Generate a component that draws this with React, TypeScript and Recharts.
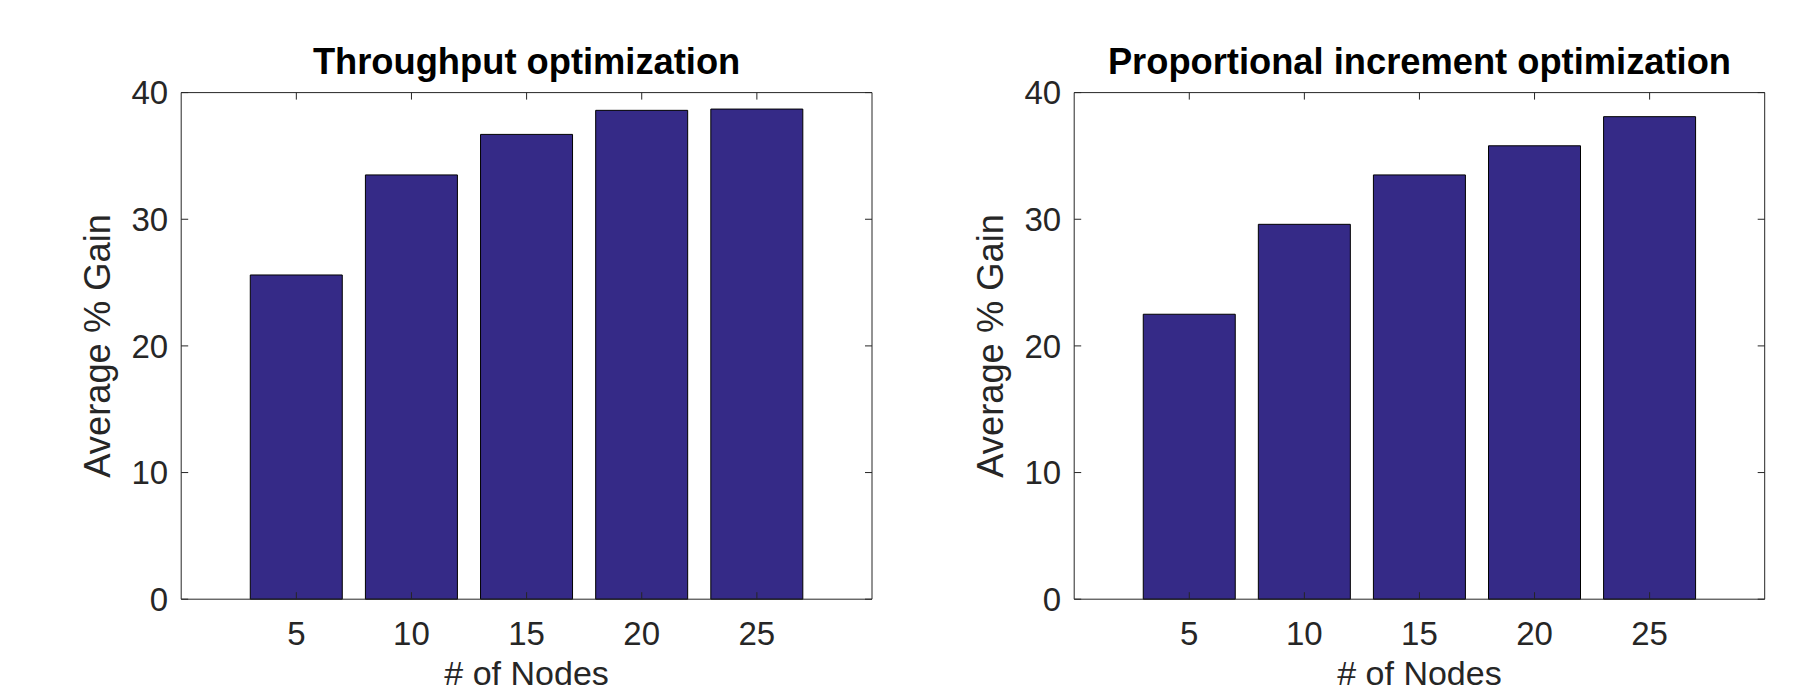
import React from 'react';
import { BarChart, Bar, XAxis, YAxis, ReferenceLine } from 'recharts';

const nodeCounts = [5, 10, 15, 20, 25];
const throughputGain = [25.6, 33.5, 36.7, 38.6, 38.7];
const proportionalGain = [22.5, 29.6, 33.5, 35.8, 38.1];
const xTicks = [5, 10, 15, 20, 25];
const yTicks = [0, 10, 20, 30, 40];
const xDomain: [number, number] = [0, 30];
const yDomain: [number, number] = [0, 40];

const titles = ['Throughput optimization', 'Proportional increment optimization'];
const xLabel = '# of Nodes';
const yLabel = 'Average % Gain';

const FONT = '"Liberation Sans", Arial, Helvetica, sans-serif';
const AXIS_COLOR = '#262626';
const BAR_COLOR = '#352A87';
const TICK_LEN = 7;
const TICK_FONT = 33;
const LABEL_FONT = 36.3;
const XLABEL_FONT = 34;
const CHART_H = 692;
const PLOT_TOP = 92.6;
const PLOT_BOTTOM = 599.2;
const PLOT_H = PLOT_BOTTOM - PLOT_TOP;
const X_AXIS_H = 60;

const BottomTick = (props: any) => {
  const { x, y, payload } = props;
  return (
    <g>
      <line x1={x} y1={y} x2={x} y2={y - TICK_LEN} stroke={AXIS_COLOR} strokeWidth={1} />
      <line x1={x} y1={y - PLOT_H} x2={x} y2={y - PLOT_H + TICK_LEN} stroke={AXIS_COLOR} strokeWidth={1} />
      <text x={x} y={y + 46} textAnchor="middle" fontSize={TICK_FONT} fill={AXIS_COLOR} fontFamily={FONT}>
        {payload.value}
      </text>
    </g>
  );
};

const LeftTick = (props: any) => {
  const { x, y, payload, plotW } = props;
  return (
    <g>
      <line x1={x} y1={y} x2={x + TICK_LEN} y2={y} stroke={AXIS_COLOR} strokeWidth={1} />
      <line x1={x + plotW} y1={y} x2={x + plotW - TICK_LEN} y2={y} stroke={AXIS_COLOR} strokeWidth={1} />
      <text x={x - 13} y={y + TICK_FONT * 0.358} textAnchor="end" fontSize={TICK_FONT} fill={AXIS_COLOR} fontFamily={FONT}>
        {payload.value}
      </text>
    </g>
  );
};

type PanelProps = {
  values: number[];
  title: string;
  width: number;
  yAxisWidth: number;
  marginRight: number;
};

const Panel = ({ values, title, width, yAxisWidth, marginRight }: PanelProps) => {
  const data = nodeCounts.map((n, i) => ({ nodes: n, gain: values[i] }));
  const plotW = width - marginRight - yAxisWidth;
  return (
    <BarChart
      width={width}
      height={CHART_H}
      data={data}
      margin={{ top: PLOT_TOP, right: marginRight, bottom: CHART_H - PLOT_BOTTOM - X_AXIS_H, left: 0 }}
      barCategoryGap="10%"
    >
      <XAxis
        xAxisId="bottom"
        dataKey="nodes"
        type="number"
        domain={xDomain}
        ticks={xTicks}
        orientation="bottom"
        height={X_AXIS_H}
        tickSize={0}
        tickMargin={0}
        tickLine={false}
        axisLine={{ stroke: AXIS_COLOR, strokeWidth: 1 }}
        tick={<BottomTick />}
        interval={0}
        label={(p: any) => {
          const vb = p.viewBox;
          return (
            <g>
              <text x={vb.x + vb.width / 2} y={vb.y + 85.3} textAnchor="middle" fontSize={XLABEL_FONT} fill={AXIS_COLOR} fontFamily={FONT}>
                {xLabel}
              </text>
              <text x={vb.x + vb.width / 2} y={vb.y - PLOT_H - 18.6} textAnchor="middle" fontSize={LABEL_FONT} fontWeight="bold" fill="#000" fontFamily={FONT}>
                {title}
              </text>
            </g>
          );
        }}
      />
      <YAxis
        yAxisId="left"
        type="number"
        domain={yDomain}
        ticks={yTicks}
        orientation="left"
        width={yAxisWidth}
        tickSize={0}
        tickMargin={0}
        tickLine={false}
        axisLine={{ stroke: AXIS_COLOR, strokeWidth: 1 }}
        tick={<LeftTick plotW={plotW} />}
        interval={0}
        label={(p: any) => {
          const vb = p.viewBox;
          const cx = vb.x + vb.width - 71;
          const cy = vb.y + vb.height / 2;
          return (
            <text x={cx} y={cy} transform={`rotate(-90, ${cx}, ${cy})`} textAnchor="middle" fontSize={LABEL_FONT} fill={AXIS_COLOR} fontFamily={FONT}>
              {yLabel}
            </text>
          );
        }}
      />
      <Bar
        dataKey="gain"
        xAxisId="bottom"
        yAxisId="left"
        fill={BAR_COLOR}
        stroke="#000"
        strokeWidth={1}
        isAnimationActive={false}
      />
      <ReferenceLine xAxisId="bottom" yAxisId="left" y={yDomain[1]} stroke={AXIS_COLOR} strokeWidth={1} />
      <ReferenceLine xAxisId="bottom" yAxisId="left" x={xDomain[1]} stroke={AXIS_COLOR} strokeWidth={1} />
    </BarChart>
  );
};

export default function App() {
  return (
    <div style={{ position: 'absolute', left: 0, top: 0, width: 1793, height: 692, background: '#fff', overflow: 'hidden' }}>
      <div style={{ position: 'absolute', left: 0, top: 0 }}>
        <Panel values={throughputGain} title={titles[0]} width={896} yAxisWidth={181.2} marginRight={24} />
      </div>
      <div style={{ position: 'absolute', left: 896, top: 0 }}>
        <Panel values={proportionalGain} title={titles[1]} width={897} yAxisWidth={178.2} marginRight={28.3} />
      </div>
    </div>
  );
}
